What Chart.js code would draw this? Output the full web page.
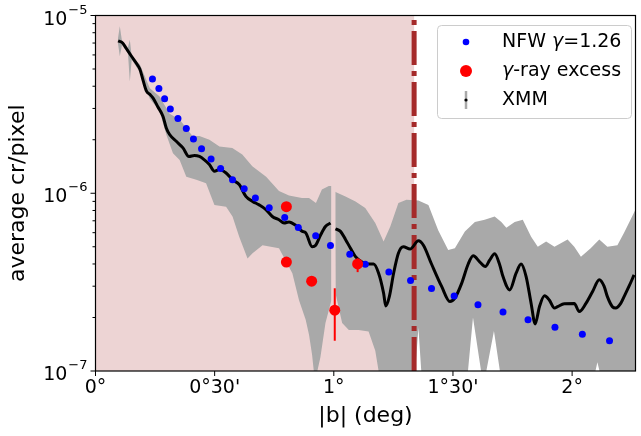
<!DOCTYPE html>
<html>
<head>
<meta charset="utf-8">
<script src="https://cdn.jsdelivr.net/npm/chart.js@4.4.0/dist/chart.umd.min.js"></script>
<style>
  html, body { margin: 0; padding: 0; background: #fff; }
  #c { display: block; }
</style>
</head>
<body>
<canvas id="c" width="641" height="436"></canvas>
<script>
// |b| in degrees, average cr/pixel
const xmmDeg = [0.095, 0.114, 0.130, 0.151, 0.175, 0.186, 0.200, 0.214, 0.228, 0.241, 0.262, 0.283, 0.297, 0.311, 0.339, 0.367, 0.392, 0.415, 0.436, 0.457,
  0.478, 0.499, 0.520, 0.548, 0.575, 0.603, 0.631, 0.659, 0.687, 0.715, 0.742, 0.770, 0.791, 0.812, 0.840, 0.868, 0.882, 0.909, 0.924, 0.944,
  0.965, 0.986, 0.995, 1.007, 1.028, 1.049, 1.070, 1.091, 1.118, 1.139, 1.167, 1.188, 1.209, 1.218, 1.233, 1.251, 1.271, 1.292, 1.320, 1.355,
  1.376, 1.410, 1.452, 1.487, 1.508, 1.536, 1.564, 1.585, 1.613, 1.636, 1.654, 1.675, 1.696, 1.710, 1.738, 1.765, 1.786, 1.807, 1.828, 1.845,
  1.863, 1.884, 1.905, 1.926, 1.939, 1.967, 2.009, 2.030, 2.058, 2.086, 2.114, 2.134, 2.148, 2.169, 2.183, 2.204, 2.218, 2.239, 2.260];
const xmmVal = [7.2e-6, 7.0e-6, 6.5e-6, 5.9e-6, 5.3e-6, 5.0e-6, 4.3e-6, 3.75e-6, 3.6e-6, 3.44e-6, 3.06e-6, 2.71e-6, 2.33e-6, 2.14e-6, 1.96e-6, 1.80e-6, 1.61e-6, 1.63e-6, 1.61e-6, 1.54e-6,
  1.45e-6, 1.33e-6, 1.36e-6, 1.30e-6, 1.19e-6, 1.12e-6, 9.6e-7, 9.0e-7, 8.6e-7, 8.1e-7, 7.4e-7, 7.1e-7, 6.8e-7, 6.9e-7, 6.6e-7, 6.1e-7, 6.0e-7, 5.0e-7, 5.1e-7, 5.8e-7,
  6.5e-7, 6.8e-7, null, 6.3e-7, 6.1e-7, 5.5e-7, 4.9e-7, 4.4e-7, 4.1e-7, 4.0e-7, 4.0e-7, 3.55e-7, 2.74e-7, 2.32e-7, 2.62e-7, 3.55e-7, 4.6e-7, 5.0e-7, 4.85e-7, 5.4e-7,
  5.1e-7, 4.0e-7, 3.0e-7, 2.46e-7, 2.57e-7, 3.1e-7, 4.0e-7, 4.45e-7, 4.1e-7, 3.87e-7, 4.2e-7, 4.56e-7, 3.96e-7, 3.4e-7, 2.86e-7, 3.55e-7, 4.0e-7, 3.4e-7, 2.4e-7, 1.84e-7,
  2.3e-7, 2.65e-7, 2.5e-7, 2.26e-7, 2.3e-7, 2.39e-7, 2.4e-7, 2.16e-7, 2.4e-7, 2.8e-7, 3.26e-7, 3.0e-7, 2.62e-7, 2.3e-7, 2.26e-7, 2.4e-7, 2.62e-7, 3.0e-7, 3.47e-7];

// XMM error band
const bandHiDeg = [0.094, 0.102, 0.111, 0.136, 0.144, 0.152, 0.186, 0.228, 0.269, 0.311, 0.353, 0.407, 0.436, 0.478, 0.520, 0.574, 0.616, 0.658, 0.716, 0.770,
  0.812, 0.866, 0.896, 0.925, 0.950, 0.979, 0.990, 0.995, 1.004, 1.049, 1.091, 1.132, 1.174, 1.209, 1.237, 1.271, 1.305, 1.355, 1.397, 1.438,
  1.480, 1.508, 1.550, 1.592, 1.633, 1.675, 1.703, 1.724, 1.759, 1.793, 1.828, 1.856, 1.891, 1.926, 1.981, 2.009, 2.037, 2.078, 2.114, 2.148,
  2.190, 2.218, 2.245, 2.266];
const bandHiVal = [7.4e-6, 8.7e-6, 7.2e-6, 6.6e-6, 7.3e-6, 5.9e-6, 5.3e-6, 3.9e-6, 3.5e-6, 2.8e-6, 2.6e-6, 2.1e-6, 2.1e-6, 2.0e-6, 1.83e-6, 1.8e-6, 1.65e-6, 1.42e-6, 1.24e-6, 1.03e-6,
  9.7e-7, 9.4e-7, 9.4e-7, 8.8e-7, 1.05e-6, 1.1e-6, 1.1e-6, null, 1.02e-6, 9.6e-7, 9.0e-7, 8.25e-7, 6.8e-7, 5.35e-7, 6.5e-7, 8.8e-7, 9.2e-7, 9.1e-7, 8.6e-7, 6.2e-7,
  4.8e-7, 4.9e-7, 6.1e-7, 6.9e-7, 7.1e-7, 7.4e-7, 6.9e-7, 6.4e-7, 6.9e-7, 7.1e-7, 5.7e-7, 5.0e-7, 5.35e-7, 5.0e-7, 5.5e-7, 5.0e-7, 4.4e-7, 4.9e-7, 5.5e-7, 5.0e-7,
  5.1e-7, 6.0e-7, 7.1e-7, 8.1e-7];
const bandLoDeg = [0.094, 0.102, 0.111, 0.136, 0.144, 0.152, 0.186, 0.228, 0.269, 0.297, 0.325, 0.353, 0.381, 0.423, 0.464, 0.499, 0.548, 0.575, 0.603, 0.638,
  0.659, 0.701, 0.770, 0.826, 0.854, 0.882, 0.896, 0.909, 0.916, 0.931, 0.944, 0.965, 0.990, 0.995, 1.007, 1.035, 1.063, 1.104, 1.146, 1.174,
  1.188, 1.342, 1.355, 1.367, 1.563, 1.584, 1.618, 1.640, 1.672, 1.697, 2.098, 2.106, 2.115, 2.266];
const bandLoVal = [7.0e-6, 5.9e-6, 6.8e-6, 6.2e-6, 4.25e-6, 5.65e-6, 4.8e-6, 3.4e-6, 2.9e-6, 2.14e-6, 1.68e-6, 1.54e-6, 1.24e-6, 1.19e-6, 1.14e-6, 8.6e-7, 8.4e-7, 7.4e-7, 5.7e-7, 4.3e-7,
  4.6e-7, 5.1e-7, 4.9e-7, 3.55e-7, 2.5e-7, 1.94e-7, 1.6e-7, 1.23e-7, 1e-7, 1e-7, 1.2e-7, 1.86e-7, 2.5e-7, null, 2.74e-7, 1.86e-7, 1.7e-7, 1.7e-7, 1.67e-7, 1.3e-7,
  1e-7, 1e-7, 1.75e-7, 1e-7, 1e-7, 2.0e-7, 1e-7, 1e-7, 1.68e-7, 1e-7, 1e-7, 1.12e-7, 1e-7, 1e-7];

// NFW gamma=1.26 model
const nfwDeg = [0.239, 0.266, 0.290, 0.314, 0.346, 0.381, 0.411, 0.445, 0.485, 0.525, 0.575, 0.624, 0.671, 0.729, 0.794, 0.851, 0.924, 0.986, 1.067, 1.132,
  1.231, 1.322, 1.410, 1.505, 1.605, 1.710, 1.815, 1.928, 2.043, 2.157];
const nfwVal = [4.40e-6, 3.88e-6, 3.40e-6, 2.98e-6, 2.63e-6, 2.31e-6, 2.02e-6, 1.78e-6, 1.56e-6, 1.38e-6, 1.19e-6, 1.06e-6, 9.4e-7, 8.28e-7, 7.31e-7, 6.41e-7, 5.76e-7, 5.08e-7, 4.54e-7, 3.99e-7,
  3.61e-7, 3.23e-7, 2.91e-7, 2.64e-7, 2.36e-7, 2.15e-7, 1.94e-7, 1.76e-7, 1.61e-7, 1.48e-7];

// gamma-ray excess with error bars
const gammaDeg = [0.801, 0.801, 0.907, 1.004, 1.100];
const gammaVal = [8.4e-7, 4.1e-7, 3.2e-7, 2.2e-7, 4.0e-7];
const gammaLo  = [8.0e-7, 3.9e-7, 3.05e-7, 1.48e-7, 3.6e-7];
const gammaHi  = [8.8e-7, 4.3e-7, 3.35e-7, 2.92e-7, 4.3e-7];

const cutDeg = 1.337;
const xTicks = [0, 0.5, 1, 1.5, 2];
const xTickLabels = ["0°", "0°30'", "1°", "1°30'", "2°"];
const yDecades = [-7, -6, -5];

const pts = (xs, ys) => xs.map((x, i) => ({ x: x, y: ys[i] }));
const FONT = '"DejaVu Sans", sans-serif';

const decor = {
  id: 'decor',
  beforeDatasetsDraw(chart) {
    const { ctx, chartArea: a, scales: { x } } = chart;
    const x0 = x.getPixelForValue(0), x1 = x.getPixelForValue(cutDeg);
    ctx.save();
    ctx.fillStyle = 'rgb(237,212,212)';
    ctx.fillRect(x0, a.top, x1 - x0, a.bottom - a.top);
    ctx.restore();
  },
  afterDatasetsDraw(chart) {
    const { ctx, scales: { x, y } } = chart;
    ctx.save();
    ctx.strokeStyle = 'red';
    ctx.lineWidth = 2;
    gammaDeg.forEach((d, i) => {
      const px = x.getPixelForValue(d);
      ctx.beginPath();
      ctx.moveTo(px, y.getPixelForValue(gammaLo[i]));
      ctx.lineTo(px, y.getPixelForValue(gammaHi[i]));
      ctx.stroke();
    });
    ctx.restore();
  },
  afterDraw(chart) {
    const { ctx, chartArea: a, scales: { x, y } } = chart;
    ctx.save();
    // frame
    ctx.strokeStyle = '#000';
    ctx.lineWidth = 1.2;
    ctx.strokeRect(a.left, a.top, a.right - a.left, a.bottom - a.top);
    // x ticks
    ctx.lineWidth = 1;
    ctx.fillStyle = '#000';
    ctx.font = '19px ' + FONT;
    ctx.textAlign = 'center';
    ctx.textBaseline = 'top';
    xTicks.forEach((v, i) => {
      const px = x.getPixelForValue(v);
      ctx.beginPath();
      ctx.moveTo(px, a.bottom);
      ctx.lineTo(px, a.bottom + 5);
      ctx.stroke();
      ctx.fillText(xTickLabels[i], px, a.bottom + 8);
    });
    // y ticks (log)
    yDecades.forEach(e => {
      for (let m = 1; m <= 9; m++) {
        const v = m * Math.pow(10, e);
        if (v > 1.0001e-5) break;
        const py = y.getPixelForValue(v);
        ctx.beginPath();
        ctx.moveTo(a.left, py);
        ctx.lineTo(a.left - (m === 1 ? 5 : 3), py);
        ctx.stroke();
      }
      const py = y.getPixelForValue(Math.pow(10, e));
      ctx.textAlign = 'right';
      ctx.textBaseline = 'alphabetic';
      ctx.font = '13px ' + FONT;
      const sup = '\u2212' + Math.abs(e);
      const sw = ctx.measureText(sup).width;
      const right = a.left - 8;
      ctx.fillText(sup, right, py - 2);
      ctx.font = '19px ' + FONT;
      ctx.fillText('10', right - sw - 1, py + 9);
    });
    // axis titles
    ctx.font = '22px ' + FONT;
    ctx.textAlign = 'center';
    ctx.textBaseline = 'middle';
    ctx.fillText('|b| (deg)', (a.left + a.right) / 2, 416);
    ctx.save();
    ctx.translate(18, (a.top + a.bottom) / 2);
    ctx.rotate(-Math.PI / 2);
    ctx.fillText('average cr/pixel', 0, 0);
    ctx.restore();
    // legend
    ctx.beginPath();
    ctx.roundRect(437.5, 25.5, 194, 93, 4);
    ctx.fillStyle = 'rgba(255,255,255,0.85)';
    ctx.fill();
    ctx.strokeStyle = '#cccccc';
    ctx.lineWidth = 1;
    ctx.stroke();
    const mx = 466, tx = 502;
    ctx.fillStyle = 'blue';
    ctx.beginPath(); ctx.arc(mx, 42, 3.3, 0, Math.PI * 2); ctx.fill();
    ctx.fillStyle = 'red';
    ctx.beginPath(); ctx.arc(mx, 71, 6, 0, Math.PI * 2); ctx.fill();
    ctx.strokeStyle = '#a9a9a9';
    ctx.lineWidth = 2.5;
    ctx.beginPath(); ctx.moveTo(mx, 91); ctx.lineTo(mx, 109); ctx.stroke();
    ctx.fillStyle = '#000';
    ctx.beginPath(); ctx.arc(mx, 100, 1.6, 0, Math.PI * 2); ctx.fill();
    ctx.textAlign = 'left';
    ctx.textBaseline = 'middle';
    const parts = (list, py) => {
      let cx = tx;
      list.forEach(([t, it]) => {
        ctx.font = (it ? 'italic ' : '') + '19px ' + FONT;
        ctx.fillText(t, cx, py);
        cx += ctx.measureText(t).width;
      });
    };
    parts([['NFW ', false], ['\u03b3', true], ['=1.26', false]], 42);
    parts([['\u03b3', true], ['-ray excess', false]], 71);
    parts([['XMM', false]], 100);
    ctx.restore();
  }
};

new Chart(document.getElementById('c'), {
  type: 'scatter',
  data: {
    datasets: [
      { label: 'gamma', data: pts(gammaDeg, gammaVal), backgroundColor: 'red', borderColor: 'red', pointRadius: 5.5, pointBorderWidth: 0 },
      { label: 'nfw', data: pts(nfwDeg, nfwVal), backgroundColor: 'blue', borderColor: 'blue', pointRadius: 3.5, pointBorderWidth: 0 },
      { label: 'xmm', data: pts(xmmDeg, xmmVal), showLine: true, borderColor: '#000', borderWidth: 3, pointRadius: 0,
        cubicInterpolationMode: 'monotone', spanGaps: false, fill: false },
      { label: 'cut', data: [{ x: cutDeg, y: 1e-7 }, { x: cutDeg, y: 1e-5 }], showLine: true, borderColor: '#a52a2a',
        borderWidth: 5, borderDash: [34, 6, 5, 6], borderCapStyle: 'butt', pointRadius: 0, fill: false },
      { label: 'lo', data: pts(bandLoDeg, bandLoVal), showLine: true, borderWidth: 0, borderColor: 'rgba(0,0,0,0)', pointRadius: 0, spanGaps: false, fill: false },
      { label: 'hi', data: pts(bandHiDeg, bandHiVal), showLine: true, borderWidth: 0, borderColor: 'rgba(0,0,0,0)', pointRadius: 0, spanGaps: false,
        fill: { target: 4 }, backgroundColor: '#a9a9a9' }
    ]
  },
  options: {
    responsive: false,
    animation: false,
    devicePixelRatio: 1,
    layout: { padding: { left: 95.5, right: 2.7, top: 15.5, bottom: 65 } },
    plugins: { legend: { display: false }, tooltip: { enabled: false } },
    scales: {
      x: { type: 'linear', min: 0, max: 2.266, display: false },
      y: { type: 'logarithmic', min: 1e-7, max: 1e-5, display: false }
    }
  },
  plugins: [decor]
});
</script>
</body>
</html>
